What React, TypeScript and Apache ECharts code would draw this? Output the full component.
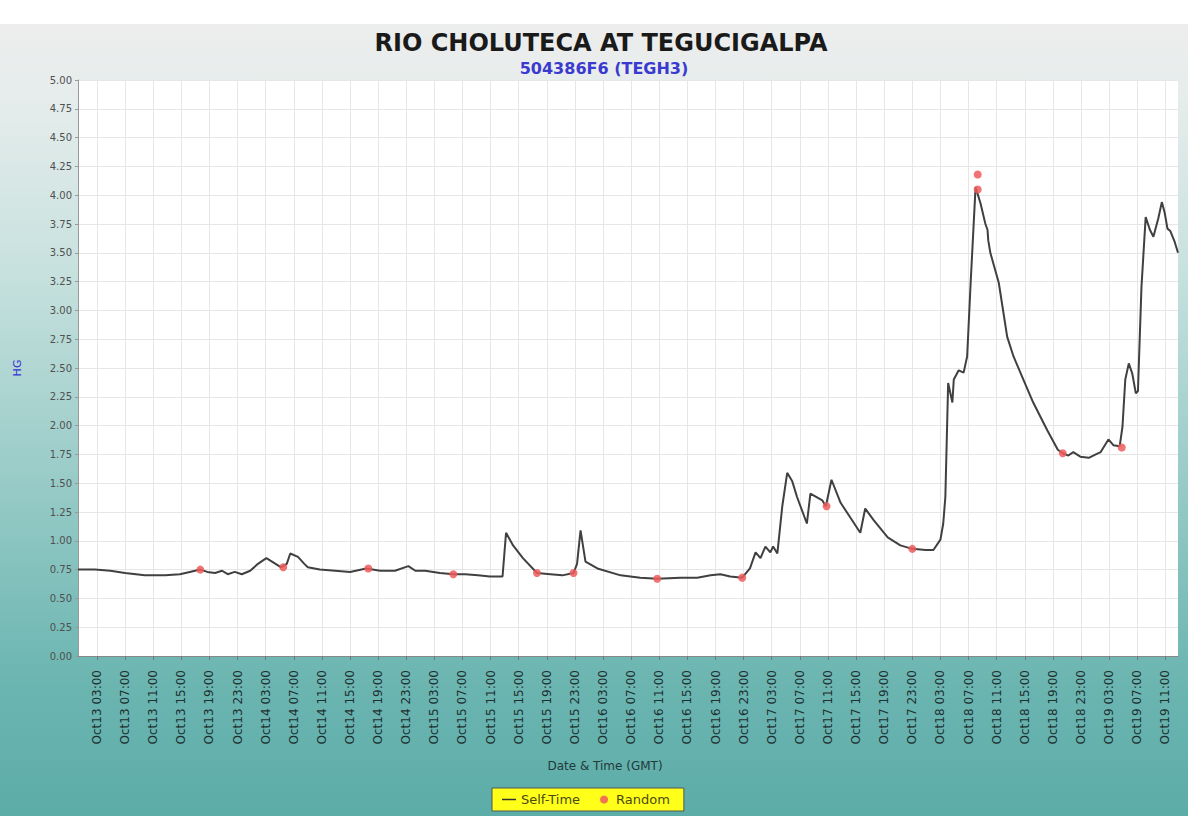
import React, { useEffect, useRef } from "react";
import * as echarts from "echarts";

// Hours since Oct13 00:00 GMT, stage (HG)
const selfTime: [number, number][] = [
  [0.3, 0.75], [2.7, 0.75], [4.9, 0.74], [7.0, 0.72], [9.8, 0.70], [12.7, 0.70], [14.8, 0.71], [16.2, 0.73],
  [17.7, 0.75], [18.7, 0.73], [19.8, 0.72], [20.8, 0.74], [21.6, 0.71], [22.6, 0.73], [23.6, 0.71], [24.8, 0.74],
  [25.9, 0.80], [27.1, 0.85], [27.9, 0.82], [29.2, 0.77], [30.0, 0.80], [30.5, 0.89], [31.6, 0.86], [32.5, 0.80],
  [33.0, 0.77], [34.7, 0.75], [36.9, 0.74], [39.0, 0.73], [41.3, 0.76], [43.3, 0.74], [45.4, 0.74], [47.3, 0.78],
  [48.3, 0.74], [49.7, 0.74], [51.8, 0.72], [53.7, 0.71], [55.4, 0.71], [57.2, 0.70], [58.9, 0.69], [60.7, 0.69],
  [61.2, 1.07], [62.2, 0.96], [63.6, 0.85], [65.6, 0.72], [67.5, 0.71], [69.2, 0.70], [70.8, 0.72], [71.3, 0.80],
  [71.8, 1.09], [72.5, 0.82], [74.2, 0.76], [77.5, 0.70], [80.3, 0.68], [82.7, 0.67], [86.0, 0.68], [88.4, 0.68],
  [90.3, 0.70], [91.7, 0.71], [93.1, 0.69], [94.8, 0.68], [95.9, 0.76], [96.7, 0.90], [97.4, 0.85], [98.1, 0.95],
  [98.8, 0.90], [99.2, 0.95], [99.8, 0.89], [100.5, 1.30], [101.2, 1.59], [101.9, 1.52], [102.6, 1.38], [104.0, 1.15],
  [104.5, 1.41], [106.2, 1.35], [106.7, 1.30], [107.5, 1.53], [108.8, 1.33], [110.2, 1.20], [111.6, 1.07], [112.3, 1.28],
  [113.5, 1.18], [115.5, 1.03], [117.3, 0.96], [119.0, 0.93], [120.9, 0.92], [122.0, 0.92], [123.0, 1.01], [123.4, 1.15],
  [123.7, 1.38], [124.1, 2.37], [124.7, 2.20], [124.9, 2.40], [125.6, 2.48], [126.3, 2.46], [126.8, 2.60], [127.3, 3.24],
  [128.0, 4.07], [128.7, 3.93], [129.4, 3.75], [129.7, 3.70], [129.8, 3.61], [130.1, 3.50], [131.3, 3.24], [132.5, 2.77],
  [133.4, 2.60], [134.8, 2.40], [136.2, 2.20], [138.2, 1.96], [139.7, 1.79], [140.4, 1.76], [141.2, 1.74], [141.9, 1.77],
  [142.9, 1.73], [144.1, 1.72], [145.1, 1.75], [145.8, 1.77], [146.9, 1.88], [147.6, 1.83], [148.5, 1.82], [148.9, 1.99],
  [149.3, 2.40], [149.8, 2.54], [150.3, 2.45], [150.8, 2.28], [151.1, 2.30], [151.6, 3.20], [152.2, 3.81], [152.8, 3.70],
  [153.3, 3.64], [154.0, 3.80], [154.5, 3.94], [154.9, 3.85], [155.3, 3.71], [155.7, 3.69], [156.3, 3.60], [156.8, 3.50],
];

const randomObs: [number, number][] = [
  [17.7, 0.75], [29.5, 0.77], [41.6, 0.76], [53.7, 0.71], [65.6, 0.72], [70.8, 0.72], [82.7, 0.67],
  [94.8, 0.68], [106.8, 1.30], [119.0, 0.93], [128.3, 4.18], [128.3, 4.05], [140.4, 1.76], [148.8, 1.81],
];

const tickLabels: string[] = [
  "Oct13 03:00", "Oct13 07:00", "Oct13 11:00", "Oct13 15:00", "Oct13 19:00", "Oct13 23:00",
  "Oct14 03:00", "Oct14 07:00", "Oct14 11:00", "Oct14 15:00", "Oct14 19:00", "Oct14 23:00",
  "Oct15 03:00", "Oct15 07:00", "Oct15 11:00", "Oct15 15:00", "Oct15 19:00", "Oct15 23:00",
  "Oct16 03:00", "Oct16 07:00", "Oct16 11:00", "Oct16 15:00", "Oct16 19:00", "Oct16 23:00",
  "Oct17 03:00", "Oct17 07:00", "Oct17 11:00", "Oct17 15:00", "Oct17 19:00", "Oct17 23:00",
  "Oct18 03:00", "Oct18 07:00", "Oct18 11:00", "Oct18 15:00", "Oct18 19:00", "Oct18 23:00",
  "Oct19 03:00", "Oct19 07:00", "Oct19 11:00",
];

const xMin = 0.3;
const xMax = 156.8;

export default function App() {
  const ref = useRef<HTMLDivElement>(null);

  useEffect(() => {
    if (!ref.current) return;
    const chart = echarts.init(ref.current, null, { renderer: "svg" });
    const tickHours = tickLabels.map((s) => {
      const day = parseInt(s.slice(3, 5), 10) - 13;
      const hr = parseInt(s.slice(6, 8), 10);
      return day * 24 + hr;
    });
    const labelFor = (v: number) => {
      const i = tickHours.findIndex((t) => Math.abs(t - v) < 0.01);
      return i >= 0 ? tickLabels[i] : "";
    };
    const font = "'DejaVu Sans', sans-serif";
    chart.setOption({
      animation: false,
      backgroundColor: "transparent",
      title: [
        {
          text: "RIO CHOLUTECA AT TEGUCIGALPA",
          left: 596,
          textAlign: "center",
          top: 26,
          textStyle: { fontFamily: font, fontWeight: "bold", fontSize: 24, color: "#1a1a1a" },
        },
        {
          text: "504386F6 (TEGH3)",
          left: 599,
          textAlign: "center",
          top: 55,
          textStyle: { fontFamily: font, fontWeight: "bold", fontSize: 16, color: "#3a3ad0" },
        },
      ],
      legend: {
        top: 788,
        left: 492,
        itemGap: 20,
        backgroundColor: "#ffff1a",
        borderColor: "#555",
        borderWidth: 1,
        padding: [5, 14, 5, 10],
        itemWidth: 14,
        itemHeight: 8,
        textStyle: { fontFamily: font, fontSize: 13, color: "#4a4a10" },
        data: [
          { name: "Self-Time", icon: "path://M0,4L14,4L14,5.5L0,5.5Z", itemStyle: { color: "#333" } },
          { name: "Random", icon: "circle" },
        ],
      },
      grid: {
        left: 78,
        right: 22,
        top: 80,
        bottom: 160,
        show: true,
        backgroundColor: "#ffffff",
        borderWidth: 0,
      },
      xAxis: {
        type: "value",
        min: xMin,
        max: xMax,
        name: "Date & Time (GMT)",
        nameLocation: "middle",
        nameGap: 104,
        nameTextStyle: { fontFamily: font, fontSize: 12, color: "#233a3a", padding: [0, 46, 0, 0] },
        axisLine: { show: true, lineStyle: { color: "#888", width: 1 } },
        axisTick: { show: true, customValues: tickHours, length: 4, lineStyle: { color: "#777" } },
        axisLabel: {
          customValues: tickHours,
          rotate: 90,
          margin: 14,
          fontFamily: font,
          fontSize: 12,
          color: "#1e3030",
          formatter: (v: number) => labelFor(v),
        },
        splitLine: { show: true, lineStyle: { color: "#e6e6e6", width: 1 } },
      },
      yAxis: {
        type: "value",
        min: 0,
        max: 5,
        interval: 0.25,
        name: "HG",
        nameLocation: "middle",
        nameGap: 55,
        nameRotate: 90,
        nameTextStyle: { fontFamily: font, fontSize: 11, color: "#3535d5" },
        axisLine: { show: true, lineStyle: { color: "#999", width: 1 } },
        axisTick: { show: true, length: 3, lineStyle: { color: "#999" } },
        axisLabel: {
          fontFamily: font,
          fontSize: 10,
          color: "#505050",
          margin: 6,
          formatter: (v: number) => v.toFixed(2),
        },
        splitLine: { show: true, lineStyle: { color: "#e6e6e6", width: 1 } },
      },
      series: [
        {
          name: "Self-Time",
          type: "line",
          data: selfTime,
          showSymbol: false,
          symbol: "none",
          lineStyle: { color: "#404040", width: 2 },
          itemStyle: { color: "#333" },
          z: 3,
        },
        {
          name: "Random",
          type: "scatter",
          data: randomObs,
          symbol: "circle",
          symbolSize: 8,
          itemStyle: { color: "#ee5a5a", opacity: 0.85 },
          z: 4,
        },
      ],
    });
    return () => chart.dispose();
  }, []);

  return (
    <div style={{ position: "absolute", left: 0, top: 0, width: 1200, height: 816, background: "#ffffff", overflow: "hidden" }}>
      <div
        style={{
          position: "absolute",
          left: 0,
          top: 24,
          width: 1188,
          height: 792,
          background: "linear-gradient(180deg, #ededed 0%, #e6edec 9%, #c9e2df 30%, #94c9c5 60%, #6db6b2 82%, #5caca8 100%)",
        }}
      />
      <div ref={ref} style={{ position: "absolute", left: 0, top: 0, width: 1200, height: 816 }} />
    </div>
  );
}
